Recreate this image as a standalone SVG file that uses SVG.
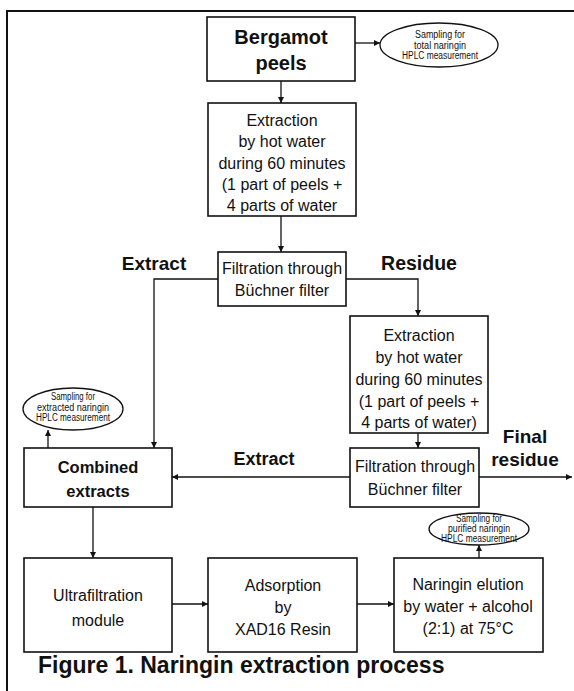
<svg xmlns="http://www.w3.org/2000/svg" width="574" height="691" viewBox="0 0 574 691">
<defs>
<marker id="ah" viewBox="0 0 10 10" refX="10" refY="5" markerWidth="7" markerHeight="6" markerUnits="userSpaceOnUse" orient="auto">
<path d="M0,0 L10,5 L0,10 z" fill="#111"/>
</marker>
<style>
.box{fill:#fff;stroke:#111;stroke-width:1.6}
.ell{fill:#fff;stroke:#111;stroke-width:1.3}
.t{font-family:"Liberation Sans",Arial,sans-serif;font-size:16px;fill:#111;text-anchor:middle}
.b{font-family:"Liberation Sans",Arial,sans-serif;font-weight:bold;fill:#111;text-anchor:middle}
.s{font-family:"Liberation Sans Narrow","Liberation Sans",Arial,sans-serif;font-size:10px;fill:#111;text-anchor:middle}
.c{fill:none;stroke:#111;stroke-width:1.3}
.frame{fill:none;stroke:#111;stroke-width:2}
</style>
</defs>
<rect width="574" height="691" fill="#fff"/>
<path class="frame" d="M574,11 L7,11 L7,691"/>

<g id="connectors">
<path class="c" d="M355,43 L380,43" marker-end="url(#ah)"/>
<path class="c" d="M281,81 L281,103" marker-end="url(#ah)"/>
<path class="c" d="M281,216 L281,252" marker-end="url(#ah)"/>
<path class="c" d="M218,279 L154,279 L154,448" marker-end="url(#ah)"/>
<path class="c" d="M346,279 L418,279 L418,316" marker-end="url(#ah)"/>
<path class="c" d="M418,433 L418,448" marker-end="url(#ah)"/>
<path class="c" d="M350,477 L172,477" marker-end="url(#ah)"/>
<path class="c" d="M479,477 L572,477" marker-end="url(#ah)"/>
<path class="c" d="M48,448 L48,430" marker-end="url(#ah)"/>
<path class="c" d="M93,507 L93,558" marker-end="url(#ah)"/>
<path class="c" d="M172,604 L208,604" marker-end="url(#ah)"/>
<path class="c" d="M357,604 L394,604" marker-end="url(#ah)"/>
<path class="c" d="M479,558 L479,545" marker-end="url(#ah)"/>
<text class="b" x="154" y="270" font-size="19">Extract</text>
<text class="b" x="419" y="270" font-size="19.5">Residue</text>
<text class="b" x="264" y="465" font-size="18">Extract</text>
<text class="b" x="525" y="443" font-size="19">Final</text>
<text class="b" x="525" y="466" font-size="19">residue</text>
</g>

<g id="bergamot">
<rect class="box" x="207" y="17" width="148" height="64"/>
<text class="b" x="281" y="44" font-size="20">Bergamot</text>
<text class="b" x="281" y="70" font-size="20">peels</text>
</g>

<g id="sampling-total">
<ellipse class="ell" cx="439" cy="45" rx="59" ry="22"/>
<text class="s" x="440" y="38" textLength="50" lengthAdjust="spacingAndGlyphs">Sampling for</text>
<text class="s" x="440" y="48.5" textLength="52" lengthAdjust="spacingAndGlyphs">total naringin</text>
<text class="s" x="440" y="59" textLength="76" lengthAdjust="spacingAndGlyphs">HPLC measurement</text>
</g>

<g id="extraction1">
<rect class="box" x="208" y="103" width="148" height="113"/>
<text class="t" x="282" y="126">Extraction</text>
<text class="t" x="282" y="147">by hot water</text>
<text class="t" x="282" y="169">during 60 minutes</text>
<text class="t" x="282" y="190">(1 part of peels +</text>
<text class="t" x="282" y="211">4 parts of water</text>
</g>

<g id="filtration1">
<rect class="box" x="218" y="252" width="128" height="54"/>
<text class="t" x="282" y="274" font-size="15.5">Filtration through</text>
<text class="t" x="282" y="296" font-size="15.5">Büchner filter</text>
</g>

<g id="extraction2">
<rect class="box" x="350" y="316" width="138" height="117"/>
<text class="t" x="419" y="341">Extraction</text>
<text class="t" x="419" y="363">by hot water</text>
<text class="t" x="419" y="385">during 60 minutes</text>
<text class="t" x="419" y="407">(1 part of peels +</text>
<text class="t" x="419" y="428">4 parts of water)</text>
</g>

<g id="filtration2">
<rect class="box" x="350" y="448" width="129" height="59"/>
<text class="t" x="415" y="472" font-size="15.5">Filtration through</text>
<text class="t" x="415" y="495" font-size="15.5">Büchner filter</text>
</g>

<g id="combined">
<rect class="box" x="24" y="448" width="148" height="59"/>
<text class="b" x="98" y="473" font-size="16.5">Combined</text>
<text class="b" x="98" y="497" font-size="16.5">extracts</text>
</g>

<g id="sampling-extracted">
<ellipse class="ell" cx="73" cy="409" rx="50" ry="21"/>
<text class="s" x="73" y="400" textLength="44" lengthAdjust="spacingAndGlyphs">Sampling for</text>
<text class="s" x="73" y="410.5" textLength="72" lengthAdjust="spacingAndGlyphs">extracted naringin</text>
<text class="s" x="73" y="421" textLength="74" lengthAdjust="spacingAndGlyphs">HPLC measurement</text>
</g>

<g id="ultrafiltration">
<rect class="box" x="24" y="558" width="148" height="94"/>
<text class="t" x="98" y="601">Ultrafiltration</text>
<text class="t" x="98" y="626">module</text>
</g>

<g id="adsorption">
<rect class="box" x="208" y="558" width="149" height="94"/>
<text class="t" x="283" y="591">Adsorption</text>
<text class="t" x="283" y="613">by</text>
<text class="t" x="283" y="635">XAD16 Resin</text>
</g>

<g id="elution">
<rect class="box" x="394" y="558" width="149" height="94"/>
<text class="t" x="468" y="590">Naringin elution</text>
<text class="t" x="468" y="612">by water + alcohol</text>
<text class="t" x="468" y="634">(2:1) at 75°C</text>
</g>

<g id="sampling-purified">
<ellipse class="ell" cx="479" cy="529" rx="50" ry="16"/>
<text class="s" x="479" y="521.5" font-size="9" textLength="46" lengthAdjust="spacingAndGlyphs">Sampling for</text>
<text class="s" x="479" y="531.5" font-size="9" textLength="62" lengthAdjust="spacingAndGlyphs">purified naringin</text>
<text class="s" x="479" y="541.5" font-size="9" textLength="76" lengthAdjust="spacingAndGlyphs">HPLC measurement</text>
</g>

<text class="b" x="38" y="673" font-size="23" style="text-anchor:start">Figure 1. Naringin extraction process</text>
</svg>
